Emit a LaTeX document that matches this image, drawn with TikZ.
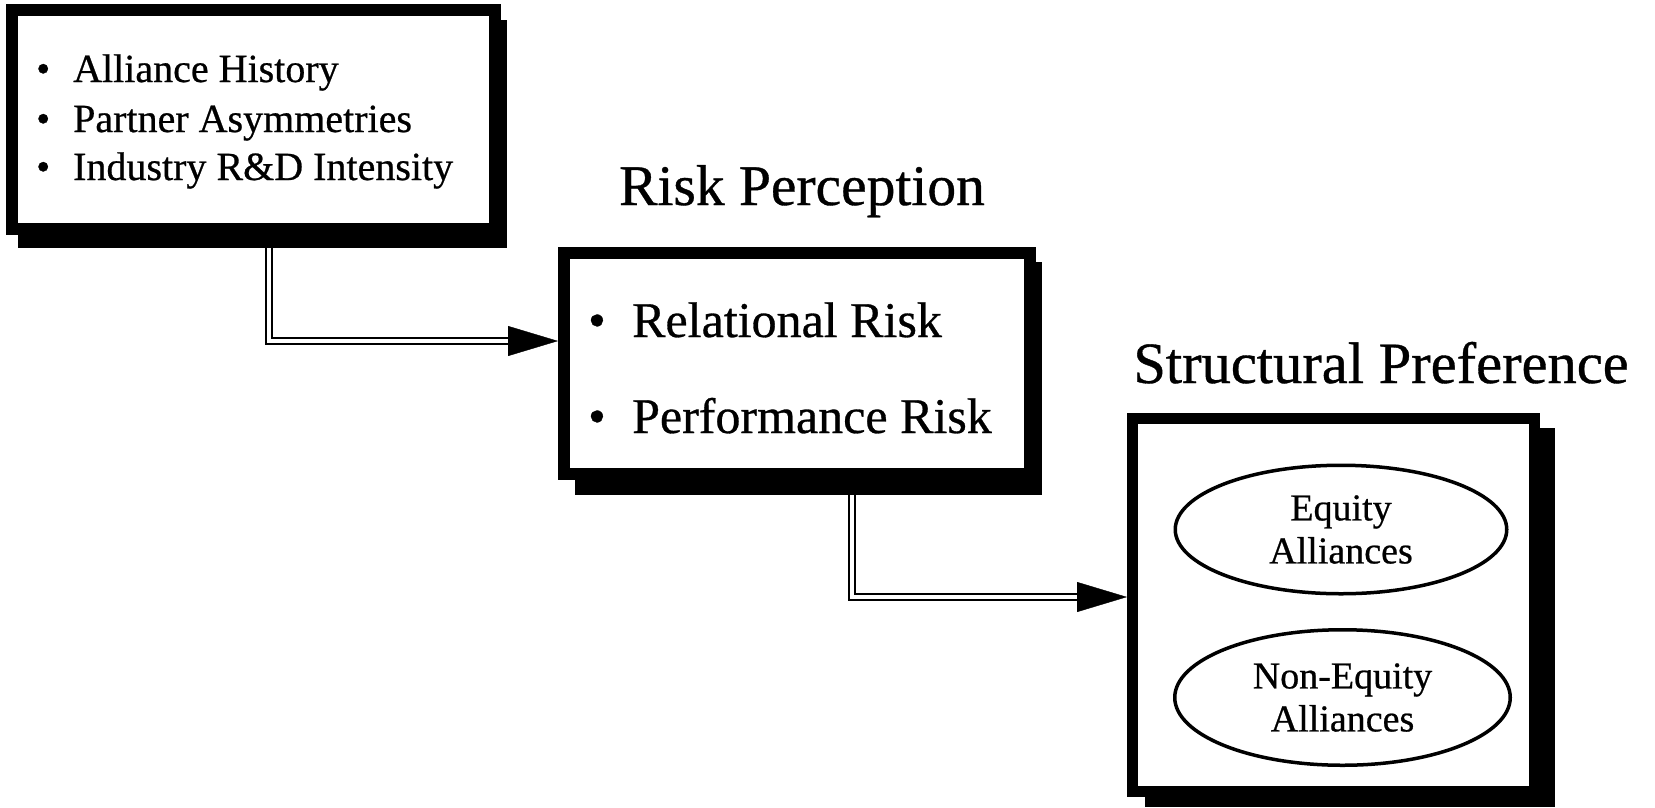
\documentclass[tikz,border=0pt]{standalone}
\usepackage{fontspec}
\setmainfont{Liberation Serif}[FakeBold=0.6]
\usetikzlibrary{calc,arrows.meta,shapes.geometric}
\pgfdeclarelayer{paper}
\pgfdeclarelayer{conn}
\pgfdeclarelayer{shad}
\pgfsetlayers{paper,conn,shad,main}
\tikzset{
  boxnode/.style={rectangle, draw=black, fill=white, line width=12pt, outer sep=6pt, inner sep=0pt},
  shadowfill/.style={fill=black},
  dbl/.style={draw=black, line width=2.5pt, double=white, double distance=3.5pt},
  tiparrow/.style={draw=black, line width=0.4pt, -{Triangle[length=50pt,width=30pt]}},
  listA/.style={anchor=base west, inner sep=0pt, font=\fontsize{40}{47}\selectfont},
  listB/.style={anchor=base west, inner sep=0pt, font=\fontsize{50}{60}\selectfont},
  titletext/.style={anchor=base, inner sep=0pt, font=\fontsize{58.5}{70}\selectfont},
  ovalnode/.style={ellipse, draw=black, line width=3.5pt, inner sep=0pt, align=center, font=\fontsize{38}{43}\selectfont}
}
\begin{document}
\begin{tikzpicture}[x=1pt,y=-1pt]
\useasboundingbox (0,0) rectangle (1655,807);
\begin{pgfonlayer}{paper}
\fill[white] (0,0) rectangle (1655,807);
\end{pgfonlayer}

% boxes
\node[boxnode, minimum width=483pt, minimum height=219pt] (b1) at (253.5,119.5) {};
\node[boxnode, minimum width=466pt, minimum height=221pt] (b2) at (797,363.5) {};
\node[boxnode, line width=11pt, outer sep=5.5pt, minimum width=402pt, minimum height=373pt] (b3) at (1333.5,605) {};

% shadows
\begin{pgfonlayer}{shad}
\fill[shadowfill] ($(b1.north west)+(12,16)$) rectangle ($(b1.south east)+(6,13)$);
\fill[shadowfill] ($(b2.north west)+(17,15)$) rectangle ($(b2.south east)+(6,15)$);
\fill[shadowfill] ($(b3.north west)+(18,15)$) rectangle ($(b3.south east)+(15,10)$);
\end{pgfonlayer}

% box 1 text
\node[listA] (l1) at (36,82) {\makebox[37pt][l]{•}Alliance History};
\node[listA] (l2) at (36,132) {\makebox[37pt][l]{•}Partner Asymmetries};
\node[listA] (l3) at (36,180) {\makebox[37pt][l]{•}Industry R\&D Intensity};

% box 2 text
\node[listB] (r1) at (588,337) {\makebox[44pt][l]{•}Relational Risk};
\node[listB] (r2) at (588,433) {\makebox[44pt][l]{•}Performance Risk};

% titles
\node[titletext, font=\fontsize{57.5}{68}\selectfont] (t1) at (802,205) {Risk Perception};
\node[titletext] (t2) at (1381,383) {Structural Preference};

% ovals
\node[ovalnode, minimum width=331.5pt, minimum height=128.5pt] (e1) at (1341,529.5) {Equity\\Alliances};
\node[ovalnode, minimum width=335.5pt, minimum height=135.5pt] (e2) at (1342.5,697.5) {Non-Equity\\Alliances};

% connectors
\coordinate (c1s) at (269,240);
\coordinate (c1a) at (508,341);
\coordinate (c2s) at (852,488);
\coordinate (c2a) at (1077,597);
\begin{pgfonlayer}{conn}
\draw[dbl] (c1s) |- (c1a);
\draw[tiparrow] (c1a) -- (c1a -| b2.west);
\draw[dbl] (c2s) |- (c2a);
\draw[tiparrow] (c2a) -- (c2a -| b3.west);
\end{pgfonlayer}
\end{tikzpicture}
\end{document}
